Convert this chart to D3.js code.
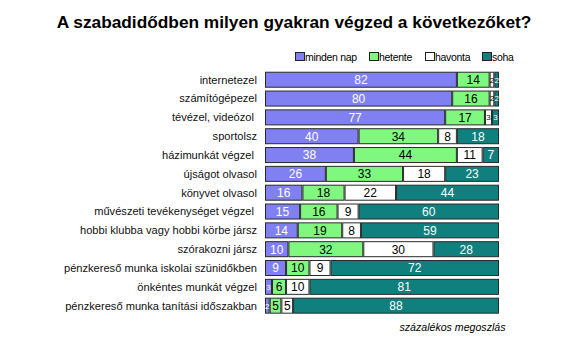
<!DOCTYPE html>
<html><head><meta charset="utf-8">
<script src="https://cdn.jsdelivr.net/npm/d3@7"></script>
<style>body{margin:0;background:#fff}svg{display:block}</style>
</head><body>
<script>
const categories = [
  "internetezel",
  "számítógépezel",
  "tévézel, videózol\u00a0",
  "sportolsz",
  "házimunkát végzel\u00a0",
  "újságot olvasol",
  "könyvet olvasol",
  "művészeti tevékenységet végzel\u00a0",
  "hobbi klubba vagy hobbi körbe jársz",
  "szórakozni jársz",
  "pénzkereső munka iskolai szünidőkben",
  "önkéntes munkát végzel",
  "pénzkereső munka tanítási időszakban"
];
const seriesNames = ["minden nap", "hetente", "havonta", "soha"];
const mindenNap = [82, 80, 77, 40, 38, 26, 16, 15, 14, 10, 9, 3, 2];
const hetente   = [14, 16, 17, 34, 44, 33, 18, 16, 19, 32, 10, 6, 5];
const havonta   = [2, 2, 3, 8, 11, 18, 22, 9, 8, 30, 9, 10, 5];
const soha      = [2, 2, 3, 18, 7, 23, 44, 60, 59, 28, 72, 81, 88];
const colors = ["#8080f2", "#80f880", "#ffffff", "#0f807e"];
const textColors = ["#ffffff", "#000000", "#000000", "#ffffff"];
const title = "A szabadidődben milyen gyakran végzed a következőket?";
const footnote = "százalékos megoszlás";

const W = 575, H = 339;
const svg = d3.select("body").append("svg").attr("width", W).attr("height", H)
  .style("font-family", "Arial, 'Liberation Sans', sans-serif");

const table = categories.map((c, i) => ({cat: c, "minden nap": mindenNap[i], "hetente": hetente[i], "havonta": havonta[i], "soha": soha[i]}));
const stacked = d3.stack().keys(seriesNames)(table);

const x = d3.scaleLinear().domain([0, 100]).range([265, 499]);
const y = d3.scaleBand().domain(categories).range([68.9, 316.5]).padding(0.15);

svg.append("text").attr("x", 294).attr("y", 28).attr("text-anchor", "middle")
  .style("font-size", "17.3px").style("font-weight", "bold").attr("fill", "#000").text(title);

// legend
const legendX = [295, 369, 425, 482];
const lg = svg.append("g");
seriesNames.forEach((s, i) => {
  lg.append("rect").attr("x", legendX[i] + 0.5).attr("y", 52.5).attr("width", 9).attr("height", 8)
    .attr("fill", colors[i]).attr("stroke", "#222").attr("stroke-width", 1);
  lg.append("text").attr("x", legendX[i] + 10).attr("y", 60.5).style("font-size", "10.5px")
    .attr("fill", "#000").style("letter-spacing", "-0.3px").text(s);
});

// axis labels
const yAxis = d3.axisLeft(y).tickSize(0).tickPadding(0);
const ag = svg.append("g").attr("transform", "translate(257,0)").call(yAxis);
ag.select(".domain").remove();
ag.selectAll("text").style("font-size", "11.1px").style("font-family", "Arial, 'Liberation Sans', sans-serif")
  .attr("fill", "#111").attr("dy", "0.35em");

// bars
const groups = svg.selectAll("g.series").data(stacked).join("g").attr("class", "series");
groups.each(function(layer, si) {
  const g = d3.select(this);
  g.selectAll("rect").data(layer).join("rect")
    .attr("x", d => x(d[0]) + 0.5)
    .attr("y", d => y(d.data.cat) + 0.5)
    .attr("width", d => Math.max(0, x(d[1]) - x(d[0]) - 1))
    .attr("height", y.bandwidth() - 1)
    .attr("fill", colors[si])
    .attr("stroke", "#2a2a2a").attr("stroke-width", 1);
  g.selectAll("text").data(layer).join("text")
    .attr("x", d => (x(d[0]) + x(d[1])) / 2)
    .attr("y", d => y(d.data.cat) + y.bandwidth() / 2)
    .attr("dy", "0.36em")
    .attr("text-anchor", "middle")
    .style("font-size", d => (x(d[1]) - x(d[0]) < 9 ? "8px" : "12px"))
    .attr("fill", textColors[si])
    .text(d => d[1] - d[0]);
});

svg.append("text").attr("x", 452.5).attr("y", 331).attr("text-anchor", "middle")
  .style("font-size", "10.6px").style("font-style", "italic").attr("fill", "#000").text(footnote);
</script>
</body></html>
